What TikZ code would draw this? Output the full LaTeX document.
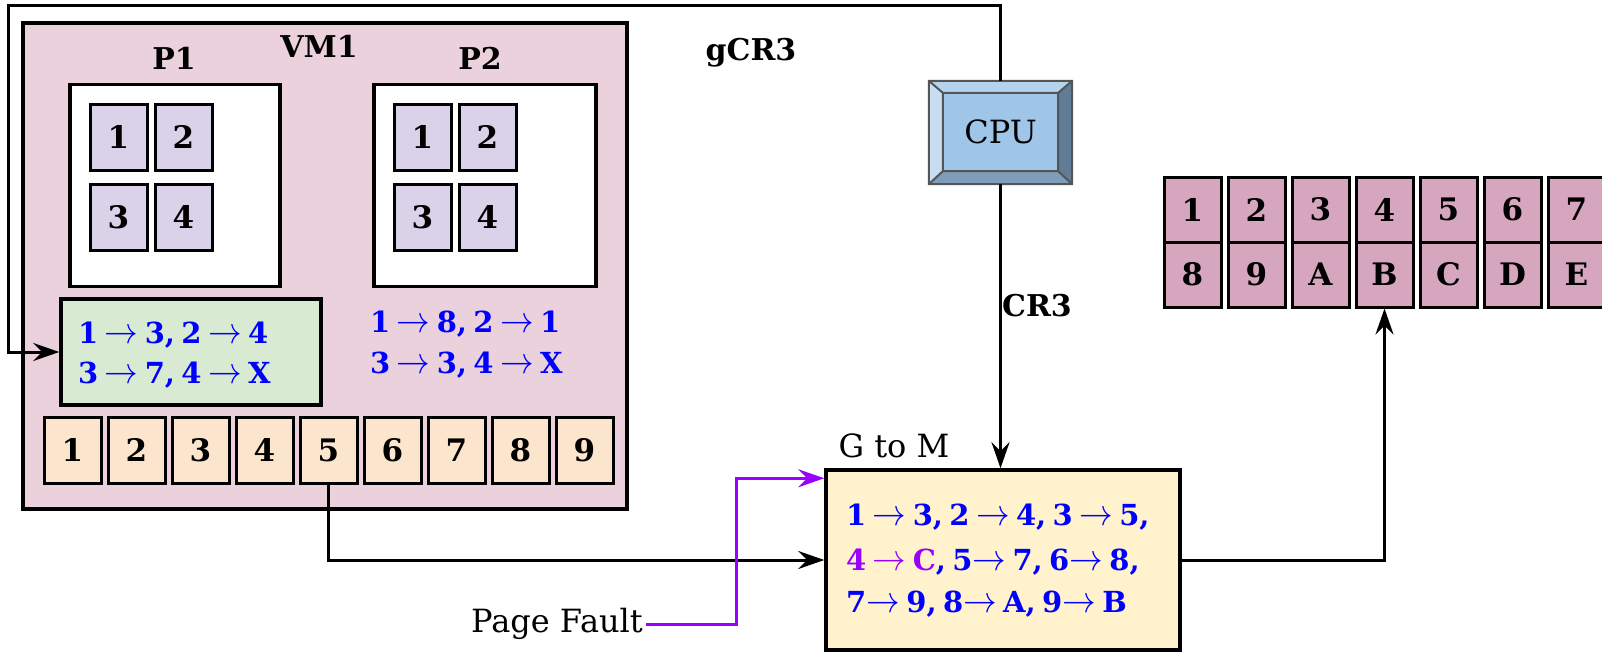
\documentclass[tikz,border=0pt]{standalone}
\usepackage{fontspec}
\setmainfont{DejaVu Serif}
\usetikzlibrary{positioning,arrows.meta}

\definecolor{vmfill}{HTML}{EAD1DC}
\definecolor{pgfill}{HTML}{D9D2E9}
\definecolor{gptfill}{HTML}{D9EAD3}
\definecolor{gpfill}{HTML}{FCE5CD}
\definecolor{gtomfill}{HTML}{FFF2CC}
\definecolor{memfill}{HTML}{D5A6BD}
\definecolor{mapblue}{HTML}{0000FF}
\definecolor{faultviolet}{HTML}{9900FF}
\definecolor{cpuface}{HTML}{9FC5E8}
\definecolor{cputop}{HTML}{B6D3EE}
\definecolor{cpuleft}{HTML}{C8DDF2}
\definecolor{cpubottom}{HTML}{7F9DBA}
\definecolor{cpuright}{HTML}{617C96}
\definecolor{cpuline}{HTML}{555555}

\newcommand{\mapsarrow}{\scalebox{1.35}[1.5]{\(\rightarrow\)}}
\protected\def\mapfont{\fontsize{29}{35}\selectfont\bfseries\spaceskip=6.4pt\relax}

\begin{document}
\begin{tikzpicture}[x=1pt,y=-1pt,
    box/.style={draw,line width=3.5pt,inner sep=0pt},
    cell/.style={box,line width=3pt,minimum width=57pt,minimum height=66pt,
      font=\fontsize{31}{36}\selectfont\bfseries},
    lab/.style={font=\fontsize{30}{36}\selectfont\bfseries},
    plainlab/.style={font=\fontsize{32}{38}\selectfont},
    map/.style={anchor=base west,inner sep=0pt,text=mapblue,font=\mapfont},
    conn/.style={line width=3pt,-{Stealth[length=26pt,width=18pt,inset=9pt]}}]
  \useasboundingbox (0,0) rectangle (1602,654);

  % guest side
  \node[box,fill=vmfill,minimum width=604pt,minimum height=486pt] (vm1) at (325,266) {};
  \node[lab] (vmlab) at (319,46) {VM1};
  \node[box,fill=white,minimum width=210pt,minimum height=202pt] (p1) at (175,185.5) {};
  \node[box,fill=white,minimum width=222pt,minimum height=202pt] (p2) at (485,185.5) {};
  \node[lab] (p1lab) at (174,58) {P1};
  \node[lab] (p2lab) at (480,58) {P2};

  \node[cell,fill=pgfill] (p1a) at (118.5,137) {1};
  \node[cell,fill=pgfill] (p1b) at (183.5,137) {2};
  \node[cell,fill=pgfill] (p1c) at (118.5,217) {3};
  \node[cell,fill=pgfill] (p1d) at (183.5,217) {4};
  \node[cell,fill=pgfill] (p2a) at (422.5,137) {1};
  \node[cell,fill=pgfill] (p2b) at (487.5,137) {2};
  \node[cell,fill=pgfill] (p2c) at (422.5,217) {3};
  \node[cell,fill=pgfill] (p2d) at (487.5,217) {4};

  \node[box,fill=gptfill,minimum width=260pt,minimum height=106pt] (gpt1) at (191,352) {};
  \node[map] (gpt1a) at (78,343) {1 \mapsarrow{} 3, 2 \mapsarrow{} 4};
  \node[map] (gpt1b) at (78,383) {3 \mapsarrow{} 7, 4 \mapsarrow{} X};
  \node[map] (gpt2a) at (370,332) {1 \mapsarrow{} 8, 2 \mapsarrow{} 1};
  \node[map] (gpt2b) at (370,373) {3 \mapsarrow{} 3, 4 \mapsarrow{} X};

  \foreach \n [count=\i] in {1,...,9}
    \node[cell,fill=gpfill] (o\i) at ({72.5+64*(\i-1)},450) {\n};

  % cpu
  \node[minimum width=143pt,minimum height=103pt,inner sep=0pt] (cpu) at (1000.5,132.5) {};
  \node[minimum width=115pt,minimum height=78pt,inner sep=0pt] (cpuin) at (1000.5,132) {};
  \fill[cputop] (cpu.north west) -- (cpu.north east) -- (cpuin.north east) -- (cpuin.north west) -- cycle;
  \fill[cpuleft] (cpu.north west) -- (cpuin.north west) -- (cpuin.south west) -- (cpu.south west) -- cycle;
  \fill[cpubottom] (cpu.south west) -- (cpuin.south west) -- (cpuin.south east) -- (cpu.south east) -- cycle;
  \fill[cpuright] (cpu.north east) -- (cpuin.north east) -- (cpuin.south east) -- (cpu.south east) -- cycle;
  \fill[cpuface] (cpuin.north west) rectangle (cpuin.south east);
  \draw[cpuline,line width=2pt,line join=miter]
    (cpu.north west) rectangle (cpu.south east)
    (cpuin.north west) rectangle (cpuin.south east)
    (cpu.north west) -- (cpuin.north west) (cpu.north east) -- (cpuin.north east)
    (cpu.south west) -- (cpuin.south west) (cpu.south east) -- (cpuin.south east);
  \node[plainlab] (cpulab) at (cpuin) {CPU};
  \node[lab] (gcr3) at (751,53) {gCR3};
  \node[lab] (cr3) at (1037,306) {CR3};

  % host side
  \node[box,fill=gtomfill,minimum width=354pt,minimum height=180pt] (gtom) at (1003,560) {};
  \node[plainlab] (gtomlab) at (894,446) {G to M};
  \node[map] (gtoma) at (846,525) {1 \mapsarrow{} 3, 2 \mapsarrow{} 4, 3 \mapsarrow{} 5,};
  \node[map] (gtomb) at (846,570) {{\color{faultviolet}4 \mapsarrow{} C}, 5\mapsarrow{} 7, 6\mapsarrow{} 8,};
  \node[map] (gtomc) at (846,612) {7\mapsarrow{} 9, 8\mapsarrow{} A, 9\mapsarrow{} B};

  \foreach \n [count=\i] in {1,...,7}
    \node[cell,fill=memfill,minimum height=65pt] (ma\i) at ({1192.5+64*(\i-1)},209.5) {\n};
  \foreach \n [count=\i] in {8,9,A,B,C,D,E}
    \node[cell,fill=memfill,minimum height=65pt] (mb\i) at ({1192.5+64*(\i-1)},274.5) {\n};

  \node[plainlab] (fault) at (557,624) {Page Fault};

  % connectors
  \coordinate (gloop) at (8,5);
  \draw[conn] (cpu.north) |- (gloop) |- (gpt1.west);
  \draw[conn] (cpu.south) -- (cpu.south |- gtom.north);
  \draw[conn] (o5.south) |- (gtom.west);
  \draw[conn] (gtom.east) -| (mb4.south);
  \draw[conn,faultviolet] (fault.east) -- (736,624) |- ([yshift=-10pt]gtom.north west);
\end{tikzpicture}
\end{document}
